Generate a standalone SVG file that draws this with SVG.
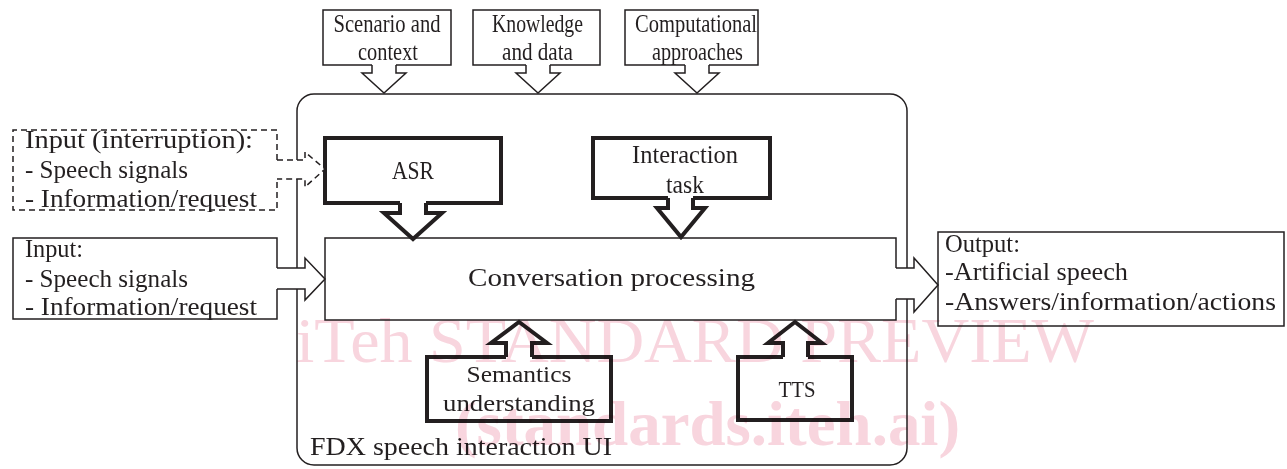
<svg xmlns="http://www.w3.org/2000/svg" width="1287" height="469" viewBox="0 0 1287 469">
  <style>
    .t { font-family: "Liberation Serif", "Times New Roman", serif; fill: #231f20; font-size: 25px; }
    .s { font-size: 23px; }
    .m { text-anchor: middle; }
    .thin { fill: #ffffff; stroke: #231f20; stroke-width: 1.5; stroke-linejoin: miter; }
    .thick { fill: #ffffff; stroke: #231f20; stroke-width: 4; stroke-linejoin: miter; }
    .dash { stroke-dasharray: 6 4; }
    .wm { font-family: "Liberation Serif", "Times New Roman", serif; fill: #f8d5de; mix-blend-mode: multiply; }
  </style>

  <!-- container: FDX speech interaction UI -->
  <g id="ui-frame">
    <rect x="297" y="94" width="610" height="371" rx="17" ry="17" class="thin"/>
    <text class="t" x="310" y="455" textLength="302" lengthAdjust="spacingAndGlyphs">FDX speech interaction UI</text>
  </g>

  <!-- top context boxes -->
  <g id="scenario">
    <path class="thin" d="M372,65 H323 V10 H451 V65 H396"/>
    <text class="t m" x="387" y="32" font-size="24" textLength="107" lengthAdjust="spacingAndGlyphs">Scenario and</text>
    <text class="t m" x="388" y="60" font-size="24" textLength="60" lengthAdjust="spacingAndGlyphs">context</text>
  </g>
  <g id="knowledge">
    <path class="thin" d="M526,65 H473 V10 H600 V65 H550"/>
    <text class="t m" x="537.5" y="32" font-size="24" textLength="91" lengthAdjust="spacingAndGlyphs">Knowledge</text>
    <text class="t m" x="537.5" y="60" font-size="24" textLength="71" lengthAdjust="spacingAndGlyphs">and data</text>
  </g>
  <g id="computational">
    <path class="thin" d="M685,65 H625 V10 H758 V65 H709"/>
    <text class="t m" x="696" y="32" font-size="24" textLength="122" lengthAdjust="spacingAndGlyphs">Computational</text>
    <text class="t m" x="697.5" y="60" font-size="24" textLength="91" lengthAdjust="spacingAndGlyphs">approaches</text>
  </g>

  <!-- inputs -->
  <g id="input-interruption">
    <path class="thin dash" d="M277,160 V130 H13 V210 H277 V179"/>
    <text class="t" x="25" y="148" textLength="228" lengthAdjust="spacingAndGlyphs">Input (interruption):</text>
    <text class="t" x="25" y="178" textLength="163" lengthAdjust="spacingAndGlyphs">- Speech signals</text>
    <text class="t" x="25" y="207" textLength="232" lengthAdjust="spacingAndGlyphs">- Information/request</text>
  </g>
  <g id="input">
    <path class="thin" d="M277,268 V238 H13 V319 H277 V289"/>
    <text class="t" x="25" y="257" textLength="58" lengthAdjust="spacingAndGlyphs">Input:</text>
    <text class="t" x="25" y="287" textLength="163" lengthAdjust="spacingAndGlyphs">- Speech signals</text>
    <text class="t" x="25" y="315" textLength="232" lengthAdjust="spacingAndGlyphs">- Information/request</text>
  </g>

  <!-- processing modules -->
  <g id="asr">
    <path class="thick" d="M400,203 H325 V138 H501 V203 H426"/>
    <text class="t m" x="413" y="179" textLength="42" lengthAdjust="spacingAndGlyphs">ASR</text>
  </g>
  <g id="interaction-task">
    <path class="thick" d="M668,198 H593 V138 H770 V198 H693"/>
    <text class="t m" x="685" y="163" textLength="106" lengthAdjust="spacingAndGlyphs">Interaction</text>
    <text class="t m" x="685" y="193" textLength="38" lengthAdjust="spacingAndGlyphs">task</text>
  </g>
  <g id="conversation-processing">
    <path class="thin" d="M896,268 V238 H325 V320 H896 V299"/>
    <text class="t m" x="611.5" y="286" textLength="287" lengthAdjust="spacingAndGlyphs">Conversation processing</text>
  </g>
  <g id="semantics">
    <path class="thick" d="M506,357 H427 V421 H611 V357 H532"/>
    <text class="t s m" x="519" y="382" textLength="105" lengthAdjust="spacingAndGlyphs">Semantics</text>
    <text class="t s m" x="519" y="411" textLength="152" lengthAdjust="spacingAndGlyphs">understanding</text>
  </g>
  <g id="tts">
    <path class="thick" d="M783,357 H738 V420 H852 V357 H808"/>
    <text class="t s m" x="797" y="397" textLength="37" lengthAdjust="spacingAndGlyphs">TTS</text>
  </g>

  <!-- outputs -->
  <g id="output">
    <rect class="thin" x="938" y="232" width="346" height="94"/>
    <text class="t" x="945" y="252" textLength="75" lengthAdjust="spacingAndGlyphs">Output:</text>
    <text class="t" x="945" y="280" textLength="183" lengthAdjust="spacingAndGlyphs">-Artificial speech</text>
    <text class="t" x="945" y="310" textLength="331" lengthAdjust="spacingAndGlyphs">-Answers/information/actions</text>
  </g>

  <!-- block-arrow connectors -->
  <g id="connectors">
    <path class="thin" d="M372,65 V73 H362 L384,93 L406,73 H396 V65"/>
    <path class="thin" d="M526,65 V73 H516 L538,93 L560,73 H550 V65"/>
    <path class="thin" d="M685,65 V73 H675 L697,93 L719,73 H709 V65"/>
    <path class="thin dash" d="M277,160 H305 V152 L325,169 L305,187 V179 H277"/>
    <path class="thin" d="M277,268 H305 V258 L325,279 L305,300 V289 H277"/>
    <path class="thick" d="M400,203 V213 H384 L413,239 L442,213 H426 V203"/>
    <path class="thick" d="M668,198 V208 H657 L681,237 L705,208 H693 V198"/>
    <path class="thick" d="M506,357 V343 H491 L519,322 L547,343 H532 V357"/>
    <path class="thick" d="M783,357 V343 H768 L795,322 L822,343 H808 V357"/>
    <path class="thin" d="M896,268 H914 V258 L938,285 L914,312 V299 H896"/>
  </g>

  <!-- watermark -->
  <g id="watermark">
    <text class="wm" x="296" y="362" font-size="63" textLength="798" lengthAdjust="spacingAndGlyphs">iTeh STANDARD PREVIEW</text>
    <text class="wm" x="455" y="445" font-size="64" font-weight="bold" textLength="505" lengthAdjust="spacingAndGlyphs">(standards.iteh.ai)</text>
  </g>
</svg>
